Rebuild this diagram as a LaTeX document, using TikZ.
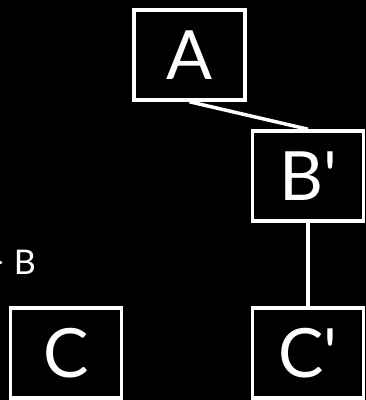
\documentclass[tikz,border=0pt]{standalone}
\usepackage{fontspec}
\setmainfont{Lato}
\begin{document}
\begin{tikzpicture}[x=1pt,y=-1pt,
  box/.style={draw=white,line width=3.5pt,fill=black,text=white,
    minimum width=111pt,minimum height=90pt,inner sep=0pt,
    font=\fontsize{68}{68}\selectfont},
  link/.style={draw=white,line width=3.5pt}]
\fill[black] (0,0) rectangle (366,400);
\useasboundingbox (0,0) rectangle (366,400);
\node[box] (A) at (189.5,55) {A};
\node[box] (Bp) at (308,176) {B\textquotesingle};
\node[box] (C) at (66,353) {C};
\node[box] (Cp) at (308,353) {C\textquotesingle};
\draw[link] (A.south) -- (Bp.north);
\draw[link] (Bp) -- (Cp);
\node[text=white,font=\fontsize{34}{34}\selectfont,anchor=east,inner sep=0pt] (lbl) at (36,262) {> B};
\end{tikzpicture}
\end{document}
